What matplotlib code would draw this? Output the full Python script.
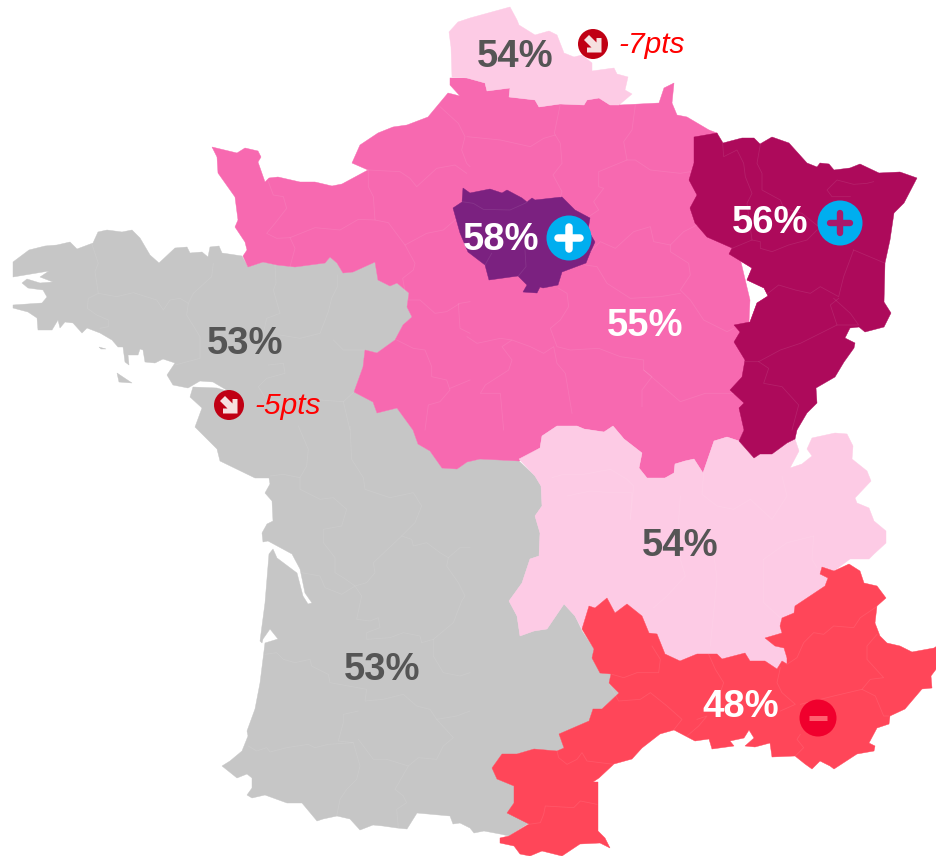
import matplotlib
matplotlib.use('Agg')
import matplotlib.pyplot as plt
from matplotlib.patches import Polygon, Circle

plt.rcParams['font.family'] = ['Liberation Sans', 'DejaVu Sans']

# outlines, in picture pixels
grey_area = [
    (13,262),(29,250),(45,246),(57,245),(70,242),(77,249),(93,243),(98,232),(107,230),(122,232),(132,230),(140,238),
    (150,255),(159,263),(175,248),(187,247),(190,253),(202,252),(208,257),(210,247),(219,246),(222,253),(242,256),
    (248,267),(263,262),(277,265),(295,267),(325,263),(330,257),(337,263),(343,273),(353,272),(375,262),(378,280),
    (390,286),(397,283),(409,293),(407,307),(412,317),(403,325),(395,340),(377,353),(365,350),(363,367),(354,392),
    (373,402),(377,413),(397,408),(413,430),(418,444),(430,451),(442,468),(457,469),(467,462),(480,459),(519,461),
    (535,476),(541,486),(542,506),(535,516),(540,533),(539,556),(530,559),(522,583),(509,601),(517,616),(520,636),
    (534,631),(547,629),(564,604),(575,616),(582,631),(594,649),(592,658),(600,673),(611,674),(609,683),(619,693),
    (602,709),(593,709),(589,721),(559,734),(564,748),(557,751),(534,749),(517,754),(502,754),(492,768),(497,779),
    (514,786),(514,803),(507,813),(529,823),(509,836),(500,834),(484,831),(474,833),(470,828),(460,823),(453,824),
    (450,816),(417,813),(407,829),(397,828),(383,826),(373,825),(360,830),(350,819),(337,816),(323,819),(317,821),
    (302,803),(287,803),(265,795),(252,798),(247,795),(252,788),(252,778),(247,774),(237,778),(222,766),(230,761),
    (242,751),(248,736),(247,731),(255,709),(260,683),(265,643),(278,639),(270,629),(263,639),(262,643),(260,641),
    (265,603),(269,554),(273,549),(277,558),(297,573),(303,596),(308,604),(312,603),(305,593),(300,569),(292,554),
    (268,541),(263,542),(262,533),(267,524),(273,521),(272,501),(265,493),(270,484),(269,478),(262,478),(255,478),
    (220,461),(217,449),(195,427),(202,408),(190,397),(193,387),(217,388),(230,392),(213,382),(200,381),(188,388),
    (173,385),(167,375),(175,363),(163,359),(155,363),(145,362),(143,350),(140,349),(138,355),(128,355),(129,365),
    (125,362),(123,347),(118,347),(112,340),(100,333),(87,328),(82,333),(73,323),(65,322),(60,328),(58,320),(52,330),
    (38,330),(37,318),(28,312),(13,308),(13,305),(42,303),(47,297),(43,290),(28,288),(22,283),(27,279),(40,283),
    (53,282),(40,277),(49,271),(13,277),
]
belle_ile = [(117,373),(132,383),(119,382)]
houat = [(99,347),(106,349),(101,349)]

pink_area = [
    (212,147),(237,153),(245,148),(258,151),(261,157),(258,162),(265,182),(269,178),(278,177),(300,182),(315,182),
    (332,186),(342,184),(368,170),(352,163),(360,145),(378,133),(393,127),(407,125),(428,117),(448,93),(460,96),
    (450,85),(450,78),(467,78),(485,83),(487,91),(510,88),(509,97),(535,100),(539,107),(560,104),(584,105),(587,100),
    (599,98),(610,105),(619,100),(620,105),(659,103),(664,88),(674,83),(672,103),(677,115),(687,117),(709,130),
    (712,140),(750,300),(744,430),(739,441),(727,437),(714,441),(703,473),(694,459),(685,461),(675,464),(674,473),
    (665,478),(647,478),(639,468),(642,453),(624,439),(613,426),(604,432),(584,429),(577,426),(557,426),(542,436),
    (540,448),(519,461),(480,459),(467,462),(457,469),(442,468),(430,451),(418,444),(413,430),(397,408),(377,413),
    (373,402),(354,392),(363,367),(365,350),(377,353),(395,340),(403,325),(412,317),(407,307),(409,293),(397,283),
    (390,286),(378,280),(375,262),(353,272),(343,273),(337,263),(330,257),(325,263),(295,267),(277,265),(263,262),
    (248,267),(243,256),(247,250),(245,242),(235,227),(238,220),(235,197),(218,173),(217,157),
]
east_border = [
    (694,137),(694,163),(689,180),(697,195),(690,208),(695,223),(707,237),(732,248),(729,254),(752,268),(747,280),
    (764,288),(768,296),(757,303),(750,322),(734,325),(740,332),(734,342),(745,360),(742,377),(730,390),(744,403),
    (739,408),(744,430),
]
pink_east = [(709,130),(717,133),(730,200),(790,300),(770,430),(744,430)] + east_border[::-1]

light_south = [
    (519,459),(540,448),(542,436),(557,426),(577,426),(584,429),(604,432),(613,426),(624,439),(642,453),(639,468),
    (647,478),(665,478),(674,473),(675,464),(685,461),(694,459),(703,473),(714,441),(727,437),(739,441),(754,458),
    (760,454),(772,454),(787,443),(795,439),(799,451),(790,468),(802,464),(812,456),(807,449),(812,438),(835,433),
    (847,434),(853,446),(852,459),(867,471),(871,481),(855,498),(857,503),(869,508),(874,521),(886,531),(886,543),
    (874,554),(869,559),(850,559),(834,571),(822,567),(820,574),(828,578),(825,586),(807,598),(795,606),(794,613),
    (782,618),(780,626),(782,633),(765,638),(775,646),(784,648),(787,658),(787,664),(782,661),(777,669),(765,661),
    (750,661),(745,653),(722,659),(717,654),(709,654),(697,654),(680,661),(665,654),(657,634),(649,633),(642,616),
    (627,604),(615,613),(607,598),(595,608),(589,606),(582,629),(575,616),(564,604),(547,629),(534,631),(520,636),
    (517,616),(509,601),(522,583),(530,559),(539,556),(540,533),(535,516),(542,506),(541,486),(535,476),
]
light_north = [
    (449,32),(458,22),(470,18),(510,7),(517,20),(519,25),(535,35),(549,31),(557,35),(564,53),(574,57),(582,55),
    (592,63),(592,71),(614,68),(617,74),(628,77),(625,90),(632,94),(619,105),(610,105),(599,98),(587,100),(584,105),
    (560,104),(539,107),(535,100),(509,97),(510,88),(487,91),(485,83),(467,78),(452,77),(451,47),
]
dark_area = [
    (694,137),(717,133),(723,143),(742,138),(754,138),(760,144),(772,137),(789,143),(807,163),(817,167),(820,163),
    (829,164),(834,170),(850,168),(860,164),(879,173),(900,172),(917,178),(904,203),(894,213),(890,240),(885,263),
    (884,302),(891,313),(884,327),(865,332),(859,327),(850,328),(845,338),(855,343),(854,348),(844,362),(835,377),
    (816,388),(817,403),(807,413),(797,430),(795,439),(787,443),(772,454),(760,454),(754,458),(739,441),
] + east_border[::-1]
purple_area = [
    (463,188),(470,193),(490,189),(502,193),(507,190),(522,198),(527,202),(532,198),(535,200),(562,197),(575,210),
    (590,218),(588,230),(595,242),(590,253),(586,263),(562,272),(558,285),(543,288),(540,287),(537,293),(523,292),
    (527,285),(518,276),(489,280),(485,265),(468,252),(460,233),(453,208),(462,202),
]
red_area = [
    (582,629),(589,606),(595,608),(607,598),(615,613),(627,604),(642,616),(649,633),(657,634),(665,654),(680,661),
    (697,654),(709,654),(717,654),(722,659),(745,653),(750,661),(765,661),(777,669),(782,661),(787,664),(787,658),
    (784,648),(775,646),(765,638),(782,633),(780,626),(782,618),(794,613),(795,606),(807,598),(825,586),(828,578),
    (820,574),(822,567),(834,571),(849,564),(860,571),(864,583),(877,586),(886,598),(877,606),(875,623),(880,636),
    (887,643),(900,646),(912,652),(934,648),(937,646),(937,668),(931,676),(932,688),(922,689),(905,709),(890,716),
    (889,724),(877,728),(869,743),(875,746),(874,751),(857,754),(834,769),(830,766),(820,761),(812,769),(805,764),
    (795,756),(772,757),(770,743),(755,747),(745,746),(754,738),(749,730),(744,738),(730,741),(734,746),(712,749),
    (709,739),(695,741),(674,730),(660,734),(642,748),(632,759),(614,764),(599,778),(593,782),(598,782),(598,831),
    (605,838),(610,848),(600,843),(580,844),(562,856),(542,851),(530,856),(520,854),(514,846),(500,843),(500,838),
    (509,836),(529,824),(507,813),(514,803),(514,786),(497,779),(492,768),(502,754),(517,754),(534,749),(557,751),
    (564,748),(559,734),(589,721),(593,709),(602,709),(619,693),(609,683),(611,674),(600,673),(592,658),(594,649),
]

borders_nw = (0, 0, [
    [(805,545),(820,585),(850,590),(860,625),(825,670),(800,700),(830,715),(870,713),(885,745),(870,800)],
    [(870,713),(945,683),(1020,690),(1075,658),(1125,660)],
    [(1105,510),(1105,560),(1120,590),(1125,660),(1165,668),(1215,735),(1245,790),(1240,810),(1208,835),(1215,875)],
    [(1105,510),(1200,515),(1230,535),(1250,560),(1310,505),(1365,495),(1400,520)],
    [(1215,735),(1280,700),(1330,690),(1365,660)],
    [(1320,320),(1375,370),(1395,410),(1385,450),(1400,490),(1410,500)],
    [(1225,900),(1260,900),(1305,940),(1340,935),(1380,910),(1410,905)],
    [(1375,910),(1380,985),(1410,1000)],
    [(1190,1020),(1240,1045),(1275,1050),(1295,1100),(1295,1130),(1340,1140),(1350,1170),(1320,1205),(1285,1215),(1275,1290)],
    [(1350,1165),(1410,1140)],
    [(275,730),(295,790),(285,815),(295,880),(265,895),(262,925),(290,945),(325,960),(325,980),(300,985)],
    [(295,880),(350,890),(400,878),(470,900),(490,930),(510,900),(540,895),(565,910),(560,945),(600,1010),(600,1075),(525,1095)],
    [(640,790),(635,830),(580,880),(565,910)],
    [(825,795),(828,850),(820,870),(840,940),(800,955),(790,1000)],
    [(1012,825),(1012,860),(995,895),(985,935),(960,1000),(900,1015),(840,1005)],
    [(1000,1020),(1030,1050),(1095,1050)],
    [(805,1095),(850,1090),(855,1120),(800,1135),(775,1160),(800,1200),(960,1200),(1030,1205),(1063,1175)],
    [(1030,1205),(1050,1290)],
])
borders_sw = (0, 426, [
    [(895,0),(925,70),(920,120),(900,155),(850,145),(810,150)],
    [(1050,0),(1055,100),(1090,155),(1095,190),(1170,215),(1240,200),(1265,240),(1245,290),(1205,330),(1120,410),(1125,440),(1100,470),(1065,480)],
    [(900,155),(900,190),(960,220),(1000,215),(1040,250),(1025,300),(970,310),(970,350),(1005,395),(1005,440),(1030,455),(1065,480),(1085,510),(1070,580),(1110,585),(1135,575),(1140,605),(1100,620),(1100,640),(1170,635),(1210,620),(1260,630),(1265,650),(1300,640),(1360,590),(1385,525),(1395,510),(1375,470),(1340,420),(1345,395),(1380,365),(1410,365)],
    [(905,440),(960,450),(975,485),(1025,505),(1065,480)],
    [(1205,330),(1235,340),(1240,360),(1280,350),(1320,380),(1345,395)],
    [(795,685),(830,680),(850,700),(885,710),(930,700),(935,720),(985,745),(990,770),(1100,790),(1095,825),(1150,820),(1210,805),(1250,840),(1290,850),(1310,880),(1370,870),(1410,855)],
    [(1075,855),(1030,865),(1030,890),(1015,945),(1060,950),(1080,1020),(1070,1060),(1040,1090),(1020,1120),(1010,1170)],
    [(745,960),(770,975),(800,965),(810,978),(860,965),(925,955),(945,965),(985,955),(1060,950)],
    [(1075,940),(1120,1000),(1160,1000),(1225,1020),(1255,995),(1310,1000),(1330,960),(1360,935),(1310,880)],
    [(1225,1020),(1185,1090),(1210,1110),(1220,1130),(1190,1150),(1195,1205)],
    [(1300,640),(1300,690),(1330,740),(1380,750),(1410,740)],
])
borders_ne = (467, 0, [
    [(280,312),(262,400),(280,430),(285,490),(258,525),(285,575),(280,592)],
    [(0,410),(100,420),(190,440),(230,415),(265,405)],
    [(505,315),(495,390),(470,425),(480,480),(395,515),(395,560),(410,565),(380,605),(395,630),(365,650)],
    [(480,480),(505,480),(550,510),(640,520),(670,515)],
    [(370,755),(400,725),(445,745),(500,695),(550,680),(560,725),(610,735),(650,695),(690,675)],
    [(610,735),(610,755),(665,790),(670,825),(640,870),(670,900),(710,960),(780,995),(800,985)],
    [(355,795),(390,800),(420,850),(490,895),(580,890),(640,880)],
    [(275,865),(300,880),(305,920),(280,960),(250,985),(270,1040),(310,1050),(395,1045),(460,1070),(530,1080),(530,1110),(555,1130),(525,1170),(525,1220)],
    [(0,1010),(30,1030),(100,1015),(135,1020),(105,1040),(135,1080),(125,1110),(55,1155),(40,1180),(100,1180),(110,1290)],
    [(135,1020),(190,1040),(230,1060),(260,1040),(270,1090),(295,1120),(315,1240)],
    [(530,1110),(640,1205),(715,1180),(800,1180)],
    [(767,430),(770,470),(810,450),(830,490),(835,530),(855,580),(840,610),(855,720)],
    [(880,433),(870,490),(885,520),(885,570),(940,600),(950,625),(1005,640),(1055,680)],
    [(1220,545),(1200,550),(1160,553),(1110,540),(1080,570),(1095,590),(1150,590)],
    [(795,745),(855,720),(880,725),(880,745),(915,755),(965,735),(1020,720),(1050,690)],
    [(1160,750),(1130,830),(1115,890),(1060,860),(1030,880),(985,870),(935,855),(890,890)],
    [(1160,750),(1255,790)],
    [(1115,895),(1090,915),(1110,975),(1000,1030),(940,1050),(875,1085),(835,1085)],
    [(1100,895),(1150,940),(1175,975),(1110,975)],
    [(875,1085),(905,1105),(890,1150),(945,1160),(995,1215),(975,1290)],
])
borders_se = (467, 426, [
    [(255,155),(290,145),(350,145),(430,130),(480,160),(500,180),(490,280)],
    [(490,280),(495,200),(430,200),(370,195),(300,210)],
    [(710,140),(705,205),(750,240),(800,250),(850,220),(915,280),(960,210),(945,150)],
    [(640,210),(635,280),(640,400),(655,450),(600,510),(560,545)],
    [(740,380),(750,460),(730,660)],
    [(890,400),(890,530),(945,580)],
    [(1040,330),(1035,400),(1050,425)],
    [(1040,330),(960,350),(890,400)],
    [(555,660),(580,700),(575,740),(510,740),(470,755),(435,745)],
    [(425,770),(455,825),(520,820),(550,800),(600,840),(645,880),(620,912)],
    [(725,685),(745,730),(770,770),(760,800)],
    [(940,725),(930,770),(945,800),(985,835),(940,855)],
    [(1232,540),(1180,575),(1160,605),(1100,600),(1070,625),(1040,620),(1010,650),(990,695),(960,715)],
    [(1230,625),(1200,660),(1200,700),(1250,755),(1210,760),(1185,790),(1100,810),(1000,835)],
    [(1185,790),(1225,810),(1250,870),(1265,870)],
    [(1000,925),(990,940),(1010,965),(985,990)],
    [(270,975),(275,995),(300,1015),(330,1000),(345,980),(360,1005),(440,1015)],
    [(390,1135),(340,1125),(320,1145),(235,1140),(230,1165),(220,1190),(185,1195)],
    [(660,930),(695,900),(720,870),(690,880)],
])
borders_idf = (440, 170, [
    [(65,95),(100,100),(130,118),(210,120),(255,100),(262,95)],
    [(255,240),(258,290),(235,318)],
    [(135,285),(155,250)],
])

region_labels = ['54%', '58%', '56%', '53%', '55%', '54%', '53%', '48%']
label_x = [515, 501, 770, 245, 645, 680, 382, 741]
label_y = [57, 240, 223, 344, 326, 546, 670, 707]
label_colors = ['#555555', 'white', 'white', '#555555', 'white', '#555555', '#555555', 'white']

drop_labels = ['-7pts', '-5pts']
drop_x = [593, 229]
drop_y = [44, 405]

plus_x = [569, 840]
plus_y = [238, 223]
plus_colors = ['white', '#A8196B']
plus_widths = [5.4, 4.6]
plus_sizes = [11, 10]

arrow_shape = [(-9,-4),(-4,-9),(3.5,-1.5),(3.5,-6),(8.5,-6),(8.5,8.5),(-6,8.5),(-6,3.5),(-1.5,3.5)]

fig = plt.figure(figsize=(9.37, 8.56), dpi=100)
ax = fig.add_axes([0, 0, 1, 1])
ax.set_xlim(0, 937)
ax.set_ylim(856, 0)
ax.axis('off')

for shape, color, z in [(grey_area, '#C6C6C6', 1), (belle_ile, '#C6C6C6', 1), (houat, '#C6C6C6', 1),
                        (pink_area, '#F769B0', 2), (pink_east, '#F769B0', 2),
                        (light_south, '#FDCBE5', 3), (light_north, '#FDCBE5', 3),
                        (dark_area, '#AD0A5B', 4), (purple_area, '#7B2180', 5), (red_area, '#FF4659', 6)]:
    ax.add_patch(Polygon(shape, closed=True, facecolor=color, edgecolor=color, lw=0.3, zorder=z))

for left, top, lines in [borders_nw, borders_sw, borders_ne, borders_se, borders_idf]:
    for line in lines:
        ax.plot([left + p[0] / 3 for p in line], [top + p[1] / 3 for p in line],
                color='white', alpha=0.09, lw=0.6, zorder=7)

# red arrow badges
for i in range(len(drop_labels)):
    ax.add_patch(Circle((drop_x[i], drop_y[i]), 15, color='#C00014', lw=0, zorder=8))
    ax.add_patch(Polygon([(drop_x[i] + p[0], drop_y[i] + p[1]) for p in arrow_shape],
                         color='#F6E0E0', lw=0, zorder=9))
    ax.text(drop_x[i] + 25, drop_y[i] + 1, drop_labels[i], color='#FF0000', fontsize=21.5, style='italic',
            ha='left', va='center', zorder=9)

# plus badges
for i in range(len(plus_x)):
    ax.add_patch(Circle((plus_x[i], plus_y[i]), 22.5, color='#00AEEF', lw=0, zorder=8))
    ax.plot([plus_x[i] - plus_sizes[i], plus_x[i] + plus_sizes[i]], [plus_y[i], plus_y[i]], color=plus_colors[i],
            lw=plus_widths[i], solid_capstyle='round', zorder=9)
    ax.plot([plus_x[i], plus_x[i]], [plus_y[i] - plus_sizes[i], plus_y[i] + plus_sizes[i]], color=plus_colors[i],
            lw=plus_widths[i], solid_capstyle='round', zorder=9)

# minus badge
ax.add_patch(Circle((818, 718), 18.5, color='#F0002D', lw=0, zorder=8))
ax.plot([809, 827], [718, 718], color='#FF5F6F', lw=3.6, solid_capstyle='butt', zorder=9)

for i in range(len(region_labels)):
    ax.text(label_x[i], label_y[i], region_labels[i], color=label_colors[i], fontsize=27.5, fontweight='bold',
            ha='center', va='center', zorder=10)

fig.savefig('out.png', dpi=100, facecolor='white')
